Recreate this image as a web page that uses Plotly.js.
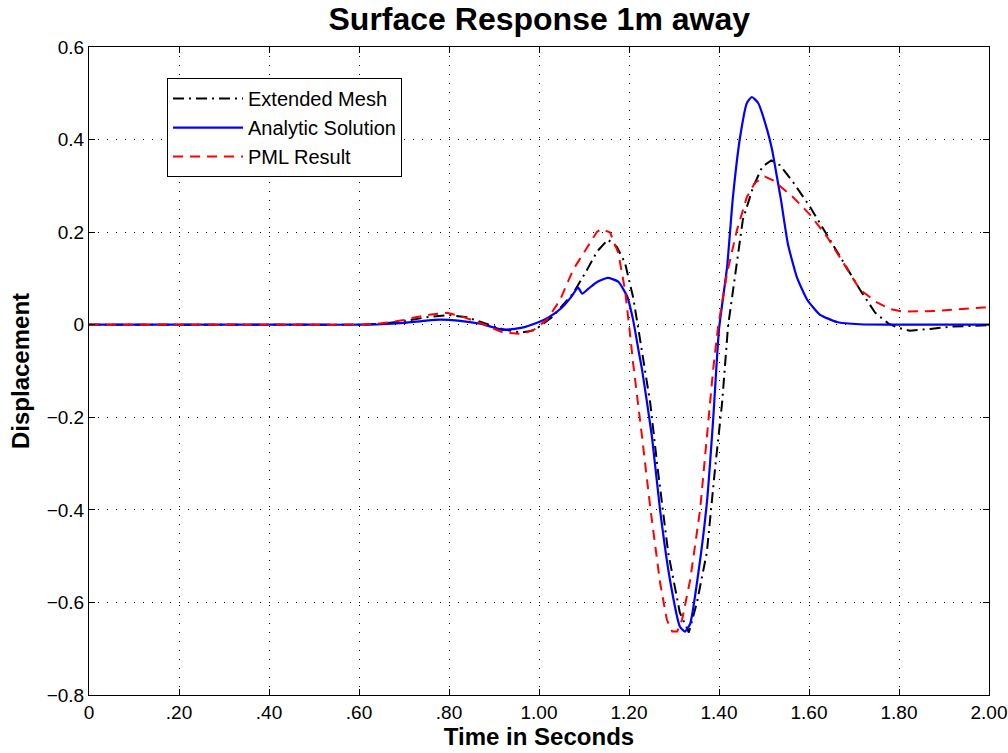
<!DOCTYPE html>
<html>
<head>
<meta charset="utf-8">
<script src="https://cdn.plot.ly/plotly-3.0.1.min.js"></script>
<style>
  html, body { margin: 0; padding: 0; background: #fff; }
  #chart { width: 1008px; height: 753px; }
</style>
</head>
<body>
<div id="chart"></div>
<script>
// Surface displacement 1 m from the source: three solutions compared.

// Extended mesh solution
const meshT = [0, 0.6, 0.65, 0.7, 0.75, 0.8, 0.84, 0.88, 0.92, 0.96, 0.99, 1.031, 1.076, 1.107, 1.129, 1.153, 1.173, 1.191, 1.209, 1.22, 1.231, 1.247, 1.264, 1.287, 1.313, 1.333, 1.351, 1.373, 1.391, 1.407, 1.42, 1.436, 1.453, 1.476, 1.496, 1.516, 1.535, 1.564, 1.602, 1.64, 1.676, 1.713, 1.747, 1.776, 1.796, 1.824, 1.869, 1.92, 2.0];
const meshY = [0, 0, 0.002, 0.008, 0.016, 0.021, 0.016, 0.003, -0.01, -0.017, -0.012, 0.018, 0.068, 0.119, 0.158, 0.184, 0.168, 0.134, 0.06, -0.004, -0.069, -0.168, -0.313, -0.492, -0.622, -0.665, -0.6, -0.492, -0.313, -0.168, -0.004, 0.112, 0.227, 0.298, 0.341, 0.355, 0.345, 0.309, 0.255, 0.194, 0.136, 0.076, 0.026, 0.003, -0.006, -0.013, -0.009, -0.004, -0.001];

// Analytic solution
const anaT = [0, 0.5, 0.6, 0.65, 0.7, 0.75, 0.78, 0.82, 0.87, 0.92, 0.96, 1.0, 1.02, 1.05, 1.07, 1.087, 1.096, 1.11, 1.13, 1.153, 1.176, 1.196, 1.209, 1.222, 1.229, 1.251, 1.269, 1.291, 1.313, 1.324, 1.336, 1.353, 1.373, 1.387, 1.4, 1.418, 1.431, 1.447, 1.462, 1.473, 1.487, 1.507, 1.518, 1.529, 1.538, 1.553, 1.573, 1.596, 1.624, 1.662, 1.713, 1.8, 2.0];
const anaY = [0, 0, 0, 0.001, 0.004, 0.009, 0.011, 0.009, 0.002, -0.011, -0.007, 0.006, 0.015, 0.036, 0.058, 0.08, 0.067, 0.078, 0.093, 0.101, 0.093, 0.061, 0.011, -0.06, -0.097, -0.242, -0.4, -0.551, -0.652, -0.663, -0.646, -0.544, -0.385, -0.205, -0.01, 0.125, 0.276, 0.406, 0.479, 0.492, 0.479, 0.421, 0.378, 0.318, 0.268, 0.175, 0.103, 0.054, 0.022, 0.006, 0.001, 0, 0];

// PML result
const pmlT = [0, 0.6, 0.65, 0.7, 0.72, 0.76, 0.796, 0.831, 0.869, 0.9, 0.92, 0.964, 0.99, 1.018, 1.047, 1.076, 1.107, 1.129, 1.14, 1.158, 1.176, 1.191, 1.202, 1.209, 1.229, 1.247, 1.269, 1.284, 1.296, 1.307, 1.318, 1.336, 1.358, 1.373, 1.387, 1.398, 1.418, 1.44, 1.462, 1.48, 1.502, 1.52, 1.564, 1.602, 1.64, 1.676, 1.713, 1.751, 1.78, 1.809, 1.884, 1.987, 2.0];
const pmlY = [0, 0, 0.003, 0.01, 0.015, 0.022, 0.026, 0.017, 0.004, -0.008, -0.017, -0.02, -0.01, 0.011, 0.054, 0.119, 0.168, 0.201, 0.207, 0.199, 0.156, 0.076, -0.017, -0.082, -0.242, -0.393, -0.557, -0.637, -0.663, -0.663, -0.637, -0.551, -0.4, -0.242, -0.097, -0.004, 0.112, 0.205, 0.276, 0.307, 0.32, 0.312, 0.276, 0.238, 0.19, 0.134, 0.076, 0.048, 0.034, 0.028, 0.03, 0.037, 0.037];

// Axis ticks
const xTickVals = [0, 0.2, 0.4, 0.6, 0.8, 1.0, 1.2, 1.4, 1.6, 1.8, 2.0];
const xTickText = ['0', '.20', '.40', '.60', '.80', '1.00', '1.20', '1.40', '1.60', '1.80', '2.00'];
const yTickVals = [-0.8, -0.6, -0.4, -0.2, 0, 0.2, 0.4, 0.6];
const yTickText = ['\u22120.8', '\u22120.6', '\u22120.4', '\u22120.2', '0', '0.2', '0.4', '0.6'];

const FONT = 'Arial, "Liberation Sans", Helvetica, sans-serif';

const traces = [
  { x: meshT, y: meshY, name: 'Extended Mesh', legendgroup: 'a', mode: 'lines',
    line: { color: '#000000', width: 2, dash: '11px,5px,2px,5px' } },
  { x: anaT, y: anaY, name: 'Analytic Solution', legendgroup: 'b', mode: 'lines',
    line: { color: '#0000ff', width: 2.2, shape: 'spline', smoothing: 0.5 } },
  { x: pmlT, y: pmlY, name: 'PML Result', legendgroup: 'c', mode: 'lines',
    line: { color: '#ff0000', width: 2, dash: '10px,7px' } }
];

const axisCommon = {
  showline: true, mirror: 'ticks', linecolor: '#000', linewidth: 1,
  ticks: 'inside', ticklen: 6, tickcolor: '#000', tickwidth: 1,
  showgrid: true, gridcolor: '#000', gridwidth: 1, griddash: '1px,8px',
  zeroline: false, tickfont: { family: FONT, size: 19, color: '#000' }
};

const layout = {
  width: 1008, height: 753,
  margin: { l: 89, r: 19, t: 47, b: 58 },
  paper_bgcolor: '#fff', plot_bgcolor: '#fff',
  title: { text: '<b>Surface Response 1m away</b>', x: 0.535, xanchor: 'center', y: 0.975, yanchor: 'middle',
           font: { family: FONT, size: 32, color: '#000' } },
  xaxis: Object.assign({}, axisCommon, {
    range: [0, 2], tickmode: 'array', tickvals: xTickVals, ticktext: xTickText, ticklabelstandoff: 0,
    title: { text: '<b>Time in Seconds</b>', standoff: 2, font: { family: FONT, size: 24, color: '#000' } }
  }),
  yaxis: Object.assign({}, axisCommon, {
    range: [-0.8, 0.6], tickmode: 'array', tickvals: yTickVals, ticktext: yTickText,
    title: { text: '<b>Displacement</b>', standoff: 10, font: { family: FONT, size: 24, color: '#000' } }
  }),
  showlegend: true,
  legend: {
    x: 0.0867, y: 0.952, xanchor: 'left', yanchor: 'top',
    bgcolor: '#fff', bordercolor: '#000', borderwidth: 1,
    font: { family: FONT, size: 20, color: '#000' },
    itemwidth: 70, tracegroupgap: 1, traceorder: 'normal'
  }
};

Plotly.newPlot('chart', traces, layout, { staticPlot: true, displayModeBar: false });
</script>
</body>
</html>
